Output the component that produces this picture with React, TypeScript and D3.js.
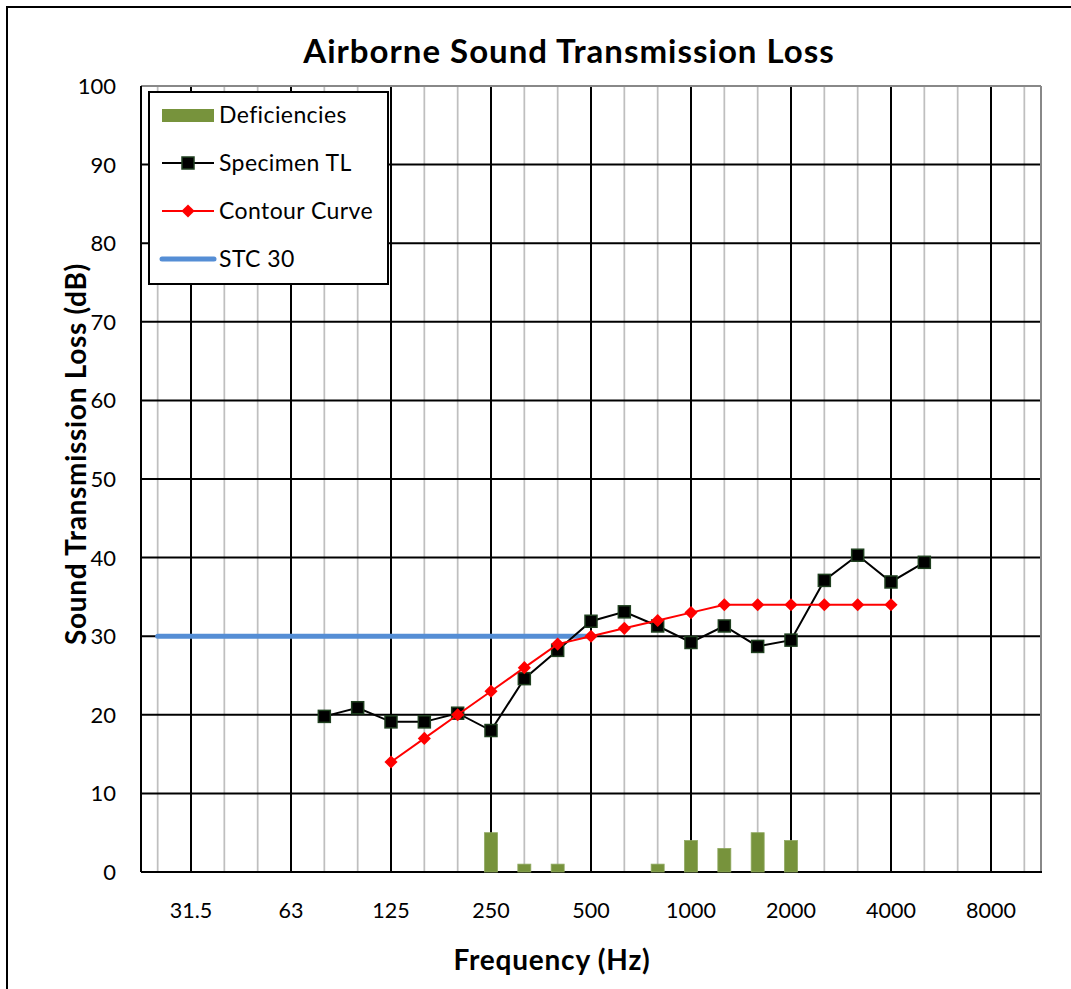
import React from "react";
import * as d3 from "d3";

const categories = ["25","31.5","40","50","63","80","100","125","160","200","250","315","400","500","630","800","1000","1250","1600","2000","2500","3150","4000","5000","6300","8000","10000"];
const labeledTicks = ["31.5","63","125","250","500","1000","2000","4000","8000"];
const yTicks = [0,10,20,30,40,50,60,70,80,90,100];

const specimenFreq = ["80","100","125","160","200","250","315","400","500","630","800","1000","1250","1600","2000","2500","3150","4000","5000"];
const specimenTL = [19.8,20.9,19.1,19.1,20.2,18.0,24.6,28.2,31.9,33.1,31.3,29.2,31.3,28.7,29.5,37.1,40.3,36.9,39.4];

const contourFreq = ["125","160","200","250","315","400","500","630","800","1000","1250","1600","2000","2500","3150","4000"];
const contourTL = [14,17,20,23,26,29,30,31,32,33,34,34,34,34,34,34];

const deficiencyFreq = ["250","315","400","800","1000","1250","1600","2000"];
const deficiencyVal = [5,1,1,1,4,3,5,4];

const stcFreq = ["25","500"];
const stcVal = [30,30];

const W = 1071, H = 989;
const L = 141, R = 1041, T = 86, B = 872;
const FONT = "Lato, 'Open Sans', sans-serif";

export default function App() {
  const x = d3.scaleBand<string>().domain(categories).range([L, R]).paddingInner(0).paddingOuter(0);
  const cx = (c: string) => (x(c) as number) + x.bandwidth() / 2;
  const y = d3.scaleLinear().domain([0, 100]).range([B, T]);

  const line = d3.line<[string, number]>().x(d => cx(d[0])).y(d => y(d[1]));
  const specPts: [string, number][] = specimenFreq.map((f, i) => [f, specimenTL[i]]);
  const contPts: [string, number][] = contourFreq.map((f, i) => [f, contourTL[i]]);
  const stcPts: [string, number][] = stcFreq.map((f, i) => [f, stcVal[i]]);

  const barW = 13;
  const sq = 12;
  const dia = d3.symbol().type(d3.symbolDiamond2).size(110)();
  const legendFont = { fontFamily: FONT, fontSize: 23, letterSpacing: 0.4 };

  return (
    <svg width={W} height={H} style={{ position: "absolute", left: 0, top: 0, background: "#fff" }}>
      <rect x={7} y={7} width={1200} height={1200} fill="#fff" stroke="#000" strokeWidth={2} />
      <text x={569} y={63} textAnchor="middle" fontFamily={FONT} fontWeight="bold" fontSize={33} letterSpacing={1}>Airborne Sound Transmission Loss</text>

      {/* vertical gridlines */}
      {categories.map((c, i) => (
        <line key={"v" + c} x1={cx(c)} x2={cx(c)} y1={T} y2={B}
          stroke={i % 3 === 1 ? "#000" : "#BFBFBF"} strokeWidth={i % 3 === 1 ? 2 : 1.75} />
      ))}
      {/* horizontal gridlines */}
      {yTicks.filter(v => v > 0 && v < 100).map(v => (
        <line key={"h" + v} x1={L} x2={R} y1={y(v)} y2={y(v)} stroke="#000" strokeWidth={2} />
      ))}
      {/* plot border */}
      <line x1={L} x2={R} y1={T} y2={T} stroke="#888" strokeWidth={2} />
      <line x1={R} x2={R} y1={T} y2={B} stroke="#888" strokeWidth={2} />
      <line x1={L} x2={L} y1={T} y2={B} stroke="#000" strokeWidth={2} />
      <line x1={L} x2={R + 1} y1={B} y2={B} stroke="#000" strokeWidth={2} />

      {/* bars */}
      {deficiencyFreq.map((f, i) => (
        <rect key={"b" + f} x={cx(f) - barW / 2} y={y(deficiencyVal[i])} width={barW}
          height={B - y(deficiencyVal[i])} fill="#77933C" stroke="#8FA860" strokeWidth={0.8} />
      ))}

      {/* STC line */}
      <path d={line(stcPts) || ""} fill="none" stroke="#558ED5" strokeWidth={5} strokeLinecap="round" />

      {/* specimen TL */}
      <path d={line(specPts) || ""} fill="none" stroke="#000" strokeWidth={2} />
      {specPts.map(d => (
        <rect key={"s" + d[0]} x={cx(d[0]) - sq / 2} y={y(d[1]) - sq / 2} width={sq} height={sq}
          fill="#000" stroke="#1F3F1F" strokeWidth={1.5} />
      ))}

      {/* contour */}
      <path d={line(contPts) || ""} fill="none" stroke="#FF0000" strokeWidth={2} />
      {contPts.map(d => (
        <path key={"c" + d[0]} d={dia || ""} transform={`translate(${cx(d[0])},${y(d[1])})`} fill="#FF0000" />
      ))}

      {/* y tick labels */}
      {yTicks.map(v => (
        <text key={"yt" + v} x={116} y={y(v)} dy="0.36em" textAnchor="end" fontFamily={FONT} fontSize={22}>{v}</text>
      ))}
      {/* x tick labels */}
      {labeledTicks.map(c => (
        <text key={"xt" + c} x={cx(c)} y={910} dy="0.36em" textAnchor="middle" fontFamily={FONT} fontSize={21.5}>{c}</text>
      ))}

      {/* axis titles */}
      <text x={552} y={960} dy="0.36em" textAnchor="middle" fontFamily={FONT} fontWeight="bold" fontSize={28} letterSpacing={0.8}>Frequency (Hz)</text>
      <text transform="translate(76,454) rotate(-90)" dy="0.36em" textAnchor="middle" fontFamily={FONT} fontWeight="bold" fontSize={28} letterSpacing={0.7}>Sound Transmission Loss (dB)</text>

      {/* legend */}
      <rect x={149} y={92} width={239} height={192} fill="#fff" stroke="#000" strokeWidth={2} />
      <rect x={162} y={109} width={52} height={13} fill="#77933C" />
      <text x={219} y={115} dy="0.36em" {...legendFont}>Deficiencies</text>
      <line x1={162} x2={214} y1={163} y2={163} stroke="#000" strokeWidth={2} />
      <rect x={188 - sq / 2} y={163 - sq / 2} width={sq} height={sq} fill="#000" stroke="#1F3F1F" strokeWidth={1.5} />
      <text x={219} y={163} dy="0.36em" {...legendFont}>Specimen TL</text>
      <line x1={162} x2={214} y1={211} y2={211} stroke="#FF0000" strokeWidth={2} />
      <path d={dia || ""} transform="translate(188,211)" fill="#FF0000" />
      <text x={219} y={211} dy="0.36em" {...legendFont}>Contour Curve</text>
      <line x1={162} x2={214} y1={259} y2={259} stroke="#558ED5" strokeWidth={5} strokeLinecap="round" />
      <text x={219} y={259} dy="0.36em" {...legendFont}>STC 30</text>
    </svg>
  );
}
